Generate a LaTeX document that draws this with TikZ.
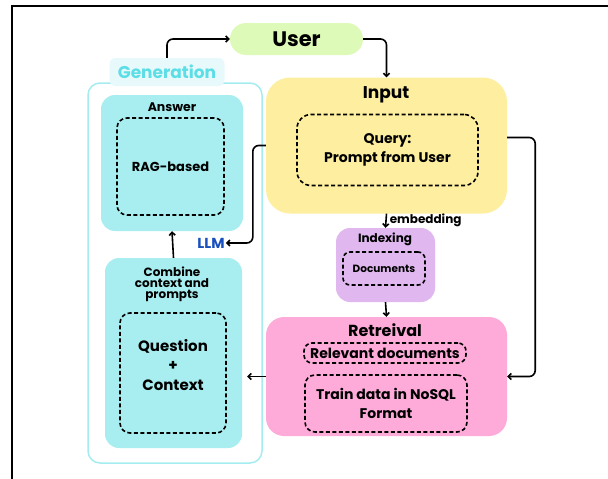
\documentclass[tikz,border=0pt]{standalone}
\usepackage{fontspec}
\setmainfont{Poppins}
\usepackage{tikz}
\usetikzlibrary{positioning, arrows.meta, calc}
\definecolor{UserGreen}{RGB}{222, 250, 184}
\definecolor{GenFill}{RGB}{232, 249, 251}
\definecolor{GenText}{RGB}{92, 222, 230}
\definecolor{GenBorder}{RGB}{165, 236, 240}
\definecolor{BoxCyan}{RGB}{168, 238, 240}
\definecolor{InputYellow}{RGB}{253, 238, 160}
\definecolor{IndexPurple}{RGB}{225, 183, 240}
\definecolor{RetrPink}{RGB}{254, 171, 218}
\definecolor{LlmBlue}{RGB}{26, 80, 190}

\begin{document}
\begin{tikzpicture}[x=1pt, y=-1pt,
    panel/.style={rounded corners=14pt, inner sep=0pt},
    dashbox/.style={draw, line width=1.6pt, dash pattern=on 4pt off 2.5pt, rounded corners=10pt,
      inner sep=0pt, align=center, font={\bfseries\fontsize{14}{19}\selectfont}},
    title/.style={inner sep=0pt, align=center, font={\bfseries\fontsize{12}{11}\selectfont}},
    conn/.style={-{Straight Barb[length=3pt, width=6pt]}, line width=1.6pt, rounded corners=6pt}]
    \useasboundingbox (0,0) rectangle (608,479);

    % Frame
    \draw[line width=2.8pt] (12,479) -- (12,6) -- (608,6);

    % User
    \node[panel, fill=UserGreen, rounded corners=16pt, minimum width=133pt, minimum height=32pt,
      font={\bfseries\fontsize{21}{22}\selectfont}] (user) at (296.5,39) {User};

    % Generation
    \node[panel, draw=GenBorder, line width=1.5pt, rounded corners=12pt,
      minimum width=174pt, minimum height=380pt] (gen) at (175,273) {};
    \node[panel, fill=GenFill, rounded corners=6pt, minimum width=115pt, minimum height=28pt,
      text=GenText, font={\bfseries\fontsize{17}{18}\selectfont}] (gentitle) at (167,72) {Generation};

    \node[panel, fill=BoxCyan, minimum width=142pt, minimum height=136pt] (ans) at (172,163) {};
    \node[title, font={\bfseries\fontsize{12.5}{13}\selectfont}] (anstitle) at (172,107) {Answer};
    \node[dashbox, minimum width=107pt, minimum height=97pt, font={\bfseries\fontsize{13}{14}\selectfont}]
      (rag) at (170.5,166.5) {RAG-based};

    \node[inner sep=1pt, text=LlmBlue, font={\bfseries\fontsize{14.5}{15}\selectfont}] (llm) at (211,243) {LLM};

    \node[panel, fill=BoxCyan, minimum width=137pt, minimum height=190pt] (comb) at (173.5,353) {};
    \node[title] (combtitle) at (172,284) {Combine\\context and\\prompts};
    \node[dashbox, minimum width=106pt, minimum height=120pt] (qbox) at (173,373) {};
    \node[inner sep=0pt, align=center, font={\bfseries\fontsize{15}{19.5}\selectfont}] (qtext) at (173,365)
      {Question\\+\\Context};

    % Input
    \node[panel, fill=InputYellow, rounded corners=24pt, minimum width=241pt, minimum height=136pt]
      (input) at (386.5,145.5) {};
    \node[title, font={\bfseries\fontsize{17}{18}\selectfont}] (inputtitle) at (386,95) {Input};
    \node[dashbox, minimum width=181pt, minimum height=71pt, rounded corners=14pt]
      (query) at (387.5,150) {Query:\\Prompt from User};

    % Indexing
    \node[panel, fill=IndexPurple, minimum width=99pt, minimum height=74pt] (index) at (385.5,265) {};
    \node[title] (indextitle) at (385,239) {Indexing};
    \node[dashbox, minimum width=82pt, minimum height=33pt, rounded corners=7pt,
      font={\bfseries\fontsize{10.5}{11}\selectfont}] (docs) at (384,268.5) {Documents};

    % Retreival
    \node[panel, fill=RetrPink, rounded corners=18pt, minimum width=241pt, minimum height=119pt]
      (retr) at (386.5,376.5) {};
    \node[title, font={\bfseries\fontsize{16}{17}\selectfont}] (retrtitle) at (385,330) {Retreival};
    \node[dashbox, minimum width=162pt, minimum height=20pt, rounded corners=8pt] (relev) at (385,353)
      {Relevant documents};
    \node[dashbox, minimum width=162pt, minimum height=57pt] (train) at (386,403.5)
      {Train data in NoSQL\\Format};

    % Connectors
    \draw[conn] (gentitle.north) |- (user.west);
    \draw[conn] (user.east) -| (input.north);
    \draw[conn] (input.west) -- ++(-13,0) |- (llm.east);
    \draw[conn] ([yshift=8pt]input.east) -- ++(28,0) |- (retr.east);
    \draw[conn] (input.south) -- (index.north)
      node[midway, right, inner sep=3pt, font={\bfseries\fontsize{12}{12}\selectfont}] (embed) {embedding};
    \draw[conn] (index.south) -- (retr.north);
    \draw[conn, shorten >=5pt] (retr.west) -- (retr.west -| comb.east);
    \draw[conn] (comb.north) -- (ans.south);
\end{tikzpicture}
\end{document}
